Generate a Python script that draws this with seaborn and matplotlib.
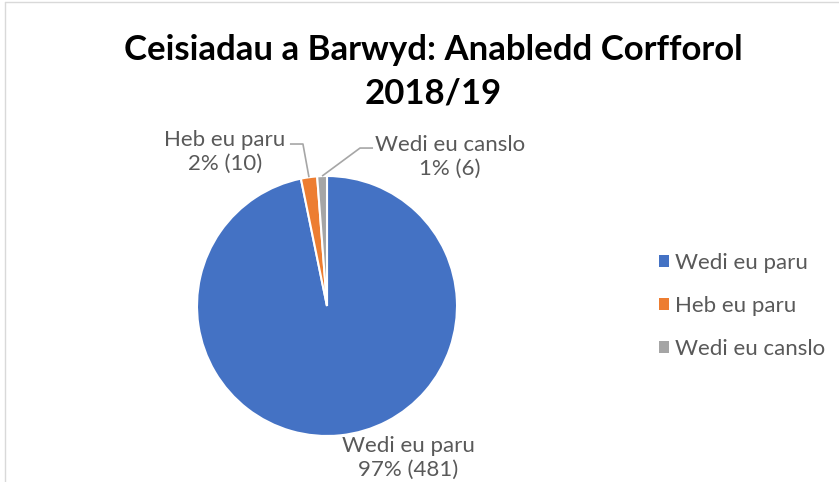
import numpy as np
import matplotlib
matplotlib.use("Agg")
import matplotlib.pyplot as plt
import seaborn as sns

# ── Data ──────────────────────────────────────────────
categories = ["Wedi eu paru", "Heb eu paru", "Wedi eu canslo"]
counts = [481, 10, 6]
colours = ["#4472C4", "#ED7D31", "#A5A5A5"]
title = "Ceisiadau a Barwyd: Anabledd Corfforol\n2018/19"

sns.set_theme(style="white")
plt.rcParams["font.family"] = ["Lato", "DejaVu Sans"]

W, H = 839, 482
fig = plt.figure(figsize=(W / 100, H / 100), dpi=100)
fig.patch.set_facecolor("white")

# chart border (left and top edges visible in the crop)
fig.add_artist(plt.Line2D([5 / W, 5 / W], [0, 1 - 2 / H], color="#D9D9D9", lw=1))
fig.add_artist(plt.Line2D([5 / W, 1], [1 - 2 / H, 1 - 2 / H], color="#D9D9D9", lw=1))

# pie axes: centre (327, 306), radius 130 px
cx, cy, r = 327, 306, 130
ax = fig.add_axes([(cx - r) / W, (H - cy - r) / H, 2 * r / W, 2 * r / H])
wedges, _ = ax.pie(counts, colors=colours, startangle=90, counterclock=False,
                   wedgeprops=dict(edgecolor="white", linewidth=1.5))
ax.set_xlim(-1, 1)
ax.set_ylim(-1, 1)
ax.set_aspect("equal")
ax.axis("off")

fig.text(433 / W, 1 - 72 / H, title, ha="center", va="center", fontsize=25,
         fontweight="bold", color="black", linespacing=1.45)

total = sum(counts)
txt_col = "#595959"
label_pos = [(0.623, -1.17), (-0.785, 1.185), (0.946, 1.148)]
elbows = [None, ((-0.285, 1.246), (-0.185, 1.246)), ((0.354, 1.215), (0.254, 1.215))]

for w, name, n, pos, elb in zip(wedges, categories, counts, label_pos, elbows):
    ax.text(pos[0], pos[1], f"{name}\n{n / total:.0%} ({n})", ha="center", va="center",
            fontsize=16, color=txt_col, linespacing=1.25, clip_on=False)
    if elb is not None:
        mid = np.deg2rad((w.theta1 + w.theta2) / 2)
        ex, ey = 1.0 * np.cos(mid), 1.0 * np.sin(mid)
        ax.plot([elb[0][0], elb[1][0], ex], [elb[0][1], elb[1][1], ey],
                color="#A6A6A6", lw=1.2, clip_on=False, solid_capstyle="butt")

leg = fig.legend(wedges, categories, loc="center left", bbox_to_anchor=(639 / W, 1 - 306 / H),
                 frameon=False, fontsize=16, handlelength=0.45, handleheight=0.45,
                 handletextpad=0.25, labelspacing=1.05)
for t in leg.get_texts():
    t.set_color(txt_col)
for h in leg.legend_handles:
    h.set_edgecolor("none")

fig.savefig("out.png", dpi=100, facecolor="white")
